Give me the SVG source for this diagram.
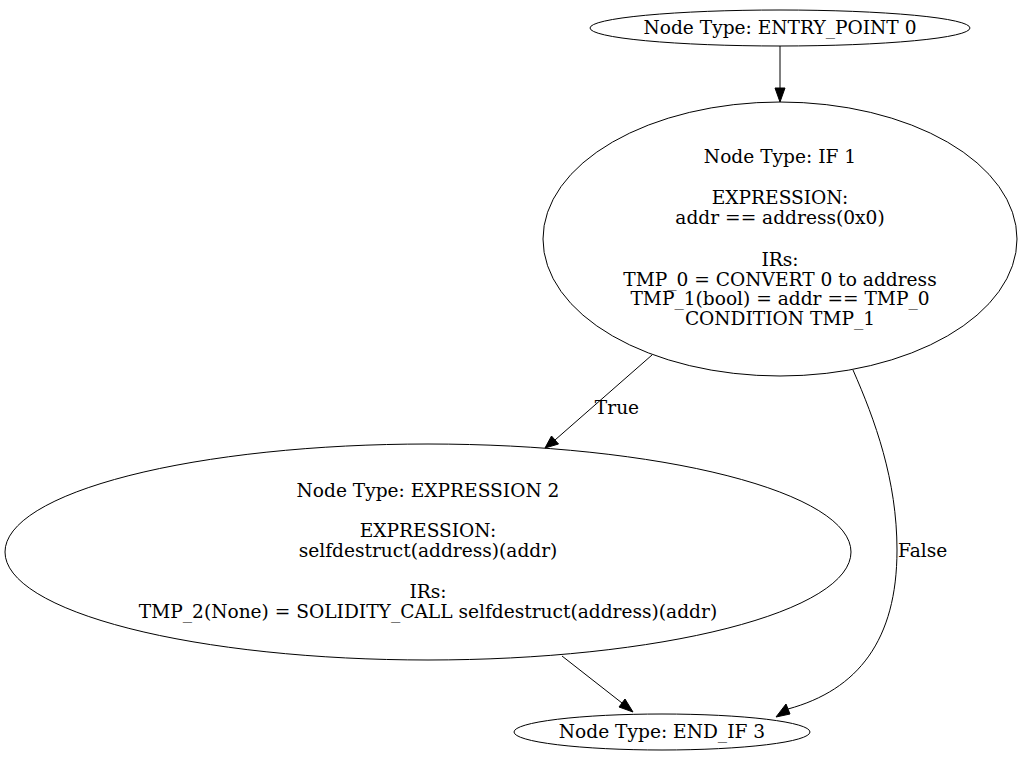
<svg xmlns="http://www.w3.org/2000/svg" width="1025" height="764" viewBox="0 0 1025 764">
  <style>
    .node ellipse { fill: none; stroke: #000; stroke-width: 1; }
    text { font-family: "DejaVu Serif", "Liberation Serif", serif; font-size: 18.6px; fill: #000; text-anchor: middle; }
    .edge path { fill: none; stroke: #000; stroke-width: 1; }
    .edge polygon { fill: #000; stroke: #000; stroke-width: 1; }
  </style>
  <rect width="1025" height="764" fill="#fff"/>

  <g id="node0" class="node">
    <ellipse cx="780" cy="28" rx="190" ry="18"/>
    <text x="780" y="34">Node Type: ENTRY_POINT 0</text>
  </g>

  <g id="node1" class="node">
    <ellipse cx="780" cy="239" rx="237" ry="137"/>
    <text x="780" y="163">Node Type: IF 1</text>
    <text x="780" y="204">EXPRESSION:</text>
    <text x="780" y="224">addr == address(0x0)</text>
    <text x="780" y="266">IRs:</text>
    <text x="780" y="286">TMP_0 = CONVERT 0 to address</text>
    <text x="780" y="305">TMP_1(bool) = addr == TMP_0</text>
    <text x="780" y="325">CONDITION TMP_1</text>
  </g>

  <g id="node2" class="node">
    <ellipse cx="428" cy="552" rx="423" ry="108"/>
    <text x="428" y="497">Node Type: EXPRESSION 2</text>
    <text x="428" y="537">EXPRESSION:</text>
    <text x="428" y="557">selfdestruct(address)(addr)</text>
    <text x="428" y="598">IRs:</text>
    <text x="428" y="618">TMP_2(None) = SOLIDITY_CALL selfdestruct(address)(addr)</text>
  </g>

  <g id="node3" class="node">
    <ellipse cx="662" cy="732" rx="148" ry="18"/>
    <text x="662" y="738">Node Type: END_IF 3</text>
  </g>

  <g id="edges">
    <g class="edge">
      <path d="M780,46 L780,88"/>
      <polygon points="775,88 785,88 780,102"/>
    </g>
    <g class="edge">
      <path d="M652,355 L555,440"/>
      <polygon points="551.5,436 558.5,444 545,448"/>
      <text x="617" y="414">True</text>
    </g>
    <g class="edge">
      <path d="M853,370 C875,420 897,480 897,550 C897,640 858,690 788,709"/>
      <polygon points="786,704 790,714 776,717"/>
      <text x="898" y="557" style="text-anchor:start">False</text>
    </g>
    <g class="edge">
      <path d="M562,656 L622,703"/>
      <polygon points="619,707 625,699 633,712"/>
    </g>
  </g>
</svg>
